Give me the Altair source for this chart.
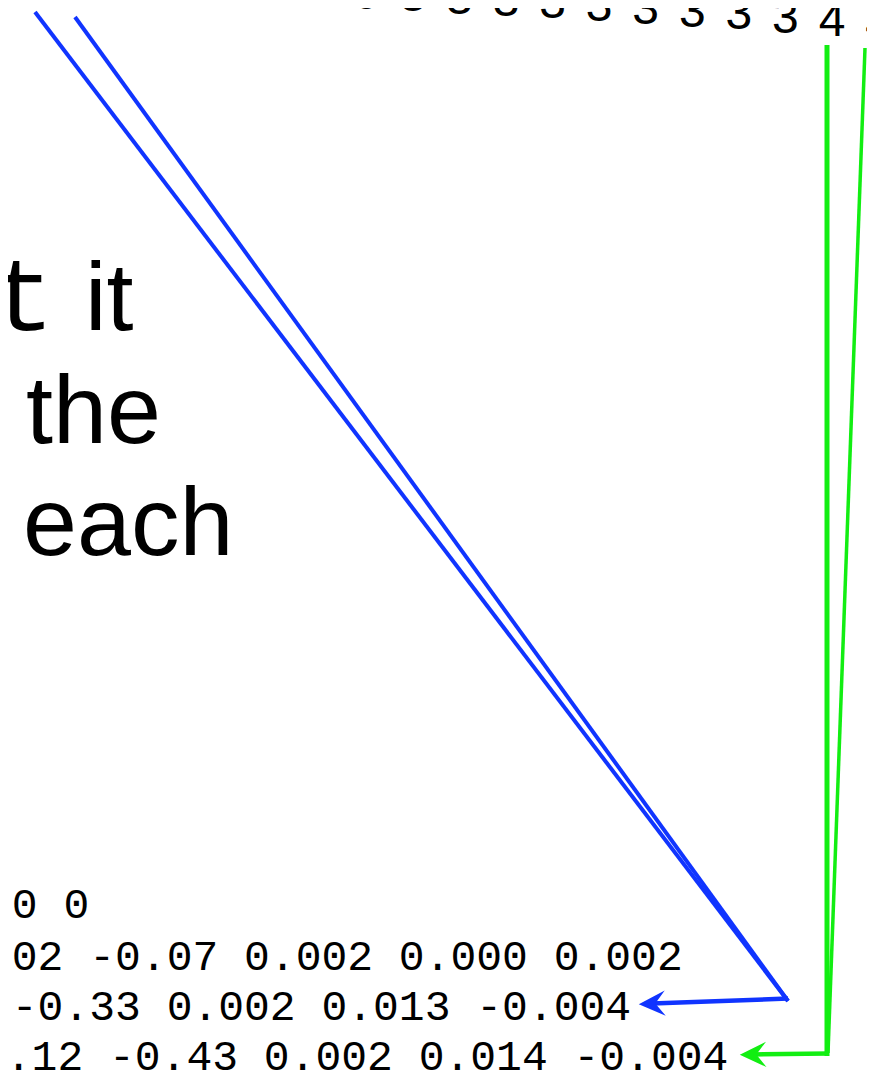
import altair as alt
import pandas as pd

# ---- content ----
top_digits = ["0", "0", "0", "0", "0", "3", "3", "3", "3", "3", "3", "3", "3", "3", "4", "4"]
code_word = ["t"]
prose_lines = ["it", "the", "each"]
table_rows = [" 0 0",
              ".02 -0.07 0.002 0.000 0.002",
              " -0.33 0.002 0.013 -0.004",
              "0.12 -0.43 0.002 0.014 -0.004"]

BLUE = "#1034ff"
GREEN = "#12ee12"

# ---- layout (pixel space of the slide); page margin of 8px on every side ----
W, H = 859, 1064
xs = alt.Scale(domain=[8, 8 + W], nice=False, zero=False)
ys = alt.Scale(domain=[8, 8 + H], nice=False, zero=False, reverse=True)


def X(f="x"):
    return alt.X(f"{f}:Q", scale=xs, axis=None)


def Y(f="y"):
    return alt.Y(f"{f}:Q", scale=ys, axis=None)


# top row of digits sitting on a gentle arc
def arc_y(x):
    return -1.75 + 0.02105 * x + 2.96e-5 * x * x


dig_x = [180 + i * 46.57 for i in range(len(top_digits))]
digits_df = pd.DataFrame({
    "t": top_digits,
    "x": dig_x,
    "y": [arc_y(v) - 0.5 for v in dig_x],
})

digits = alt.Chart(digits_df).mark_text(
    font="Liberation Sans", fontSize=48, align="center", baseline="alphabetic", color="black"
).encode(x=X(), y=Y(), text="t:N")

# large slide text
code_df = pd.DataFrame({"t": code_word, "x": [-8], "y": [330]})
code = alt.Chart(code_df).mark_text(
    font="Liberation Mono", fontSize=104, align="left", baseline="alphabetic", color="black"
).encode(x=X(), y=Y(), text="t:N")

prose_df = pd.DataFrame({"t": prose_lines, "x": [85, 26, 23], "y": [330, 443, 555]})
prose = alt.Chart(prose_df).mark_text(
    font="Liberation Sans", fontSize=97, align="left", baseline="alphabetic", color="black"
).encode(x=X(), y=Y(), text="t:N")

# table of numbers (monospace grid); leading blanks become a column offset
MONO_SIZE = 43
ADV = MONO_SIZE * 0.6001
lead = [len(r) - len(r.lstrip(" ")) for r in table_rows]
row_start = [-14, -14, -14, -20]
rows_df = pd.DataFrame({
    "t": [r.lstrip(" ") for r in table_rows],
    "x": [s + n * ADV for s, n in zip(row_start, lead)],
    "y": [918, 970, 1020, 1070],
})
rows = alt.Chart(rows_df).mark_text(
    font="Liberation Mono", fontSize=MONO_SIZE, align="left", baseline="alphabetic", color="black"
).encode(x=X(), y=Y(), text="t:N")

# connectors: from digits at the top to the rows below
seg_df = pd.DataFrame([
    # blue: two digits -> junction -> row 3
    {"x": 35, "y": 12, "x2": 788, "y2": 1001, "c": BLUE, "w": 4},
    {"x": 75, "y": 17, "x2": 788, "y2": 1001, "c": BLUE, "w": 4},
    {"x": 788, "y": 998.5, "x2": 652, "y2": 1003.5, "c": BLUE, "w": 4.5},
    # green: two digits -> junction -> row 4
    {"x": 827, "y": 45, "x2": 827, "y2": 1056, "c": GREEN, "w": 5},
    {"x": 865, "y": 48, "x2": 828, "y2": 1053, "c": GREEN, "w": 3.5},
    {"x": 829, "y": 1053.5, "x2": 752, "y2": 1054.5, "c": GREEN, "w": 4.5},
])
segs = alt.Chart(seg_df).mark_rule(strokeCap="butt").encode(
    x=X(), y=Y(), x2="x2:Q", y2="y2:Q",
    color=alt.Color("c:N", scale=None),
    strokeWidth=alt.StrokeWidth("w:Q", scale=None),
)

ARROW = "M-1,0L1,-0.96L0.25,0L1,0.96Z"
heads_df = pd.DataFrame({"x": [652, 753], "y": [1003.6, 1054.6], "c": [BLUE, GREEN], "a": [357.7, 358.9]})
heads = alt.Chart(heads_df).mark_point(
    shape=ARROW, filled=True, size=700, opacity=1, strokeWidth=0
).encode(
    x=X(), y=Y(),
    color=alt.Color("c:N", scale=None),
    angle=alt.Angle("a:Q", scale=None),
)

chart = alt.layer(segs, heads, digits, code, prose, rows).properties(
    width=W, height=H, autosize=alt.AutoSizeParams(type="none"), padding=0,
    background="white",
).configure_view(stroke=None)

chart.save("out.html", embed_options={"renderer": "svg", "actions": False})
